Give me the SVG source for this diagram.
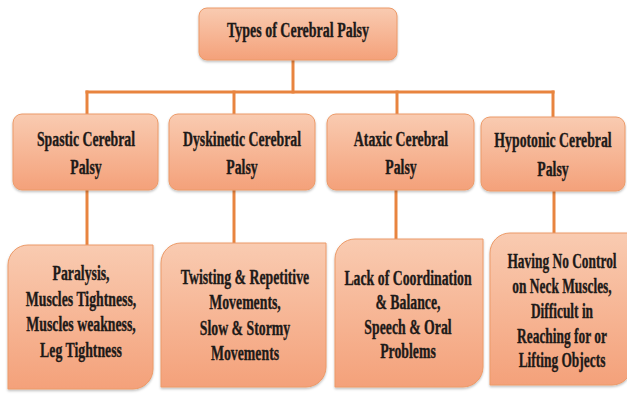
<svg xmlns="http://www.w3.org/2000/svg" width="627" height="394" viewBox="0 0 627 394">
  <defs>
    <linearGradient id="peach" x1="0" y1="0" x2="0" y2="1">
      <stop offset="0" stop-color="#F9CBB1"/>
      <stop offset="1" stop-color="#F4A17A"/>
    </linearGradient>
    <filter id="shadow" x="-10%" y="-10%" width="120%" height="125%">
      <feDropShadow dx="0" dy="1.5" stdDeviation="1.2" flood-color="#000" flood-opacity="0.25"/>
    </filter>
  </defs>
  <style>
    .box { fill: url(#peach); stroke: #EC9A68; stroke-width: 1; filter: url(#shadow); }
    .lbl { font-family: "Liberation Serif", "Times New Roman", serif; font-weight: bold; font-size: 20px; fill: #1E1A18; stroke: #1E1A18; stroke-width: 0.35; text-anchor: middle; }
    .wire { stroke: #E8843F; stroke-width: 3; fill: none; stroke-linecap: square; }
  </style>
  <rect width="627" height="394" fill="#FFFFFF"/>

  <!-- connectors -->
  <g id="connectors" class="wire">
    <line x1="293" y1="60" x2="293" y2="92"/>
    <line x1="87" y1="92" x2="553" y2="92"/>
    <line x1="87" y1="92" x2="87" y2="114"/>
    <line x1="234" y1="92" x2="234" y2="114"/>
    <line x1="397" y1="92" x2="397" y2="114"/>
    <line x1="553" y1="92" x2="553" y2="117"/>
    <line x1="87" y1="190" x2="87" y2="245"/>
    <line x1="234" y1="190" x2="234" y2="243"/>
    <line x1="396" y1="190" x2="396" y2="239"/>
    <line x1="554" y1="191" x2="554" y2="233"/>
  </g>

  <!-- root -->
  <g id="root">
    <rect class="box" x="199" y="8" width="198" height="52" rx="8"/>
    <text class="lbl" transform="translate(298 37) scale(0.70 1)" x="0" y="0">Types of Cerebral Palsy</text>
  </g>

  <!-- categories -->
  <g id="spastic">
    <rect class="box" x="13" y="114" width="145" height="76" rx="9"/>
    <g transform="translate(86 0) scale(0.69 1)">
      <text class="lbl" x="0" y="146">Spastic Cerebral</text>
      <text class="lbl" x="0" y="174">Palsy</text>
    </g>
  </g>
  <g id="dyskinetic">
    <rect class="box" x="169" y="114" width="146" height="76" rx="9"/>
    <g transform="translate(242 0) scale(0.69 1)">
      <text class="lbl" x="0" y="146">Dyskinetic Cerebral</text>
      <text class="lbl" x="0" y="174">Palsy</text>
    </g>
  </g>
  <g id="ataxic">
    <rect class="box" x="327" y="114" width="147" height="76" rx="9"/>
    <g transform="translate(401 0) scale(0.69 1)">
      <text class="lbl" x="0" y="146">Ataxic Cerebral</text>
      <text class="lbl" x="0" y="174">Palsy</text>
    </g>
  </g>
  <g id="hypotonic">
    <rect class="box" x="481" y="117" width="144" height="74" rx="9"/>
    <g transform="translate(553 0) scale(0.69 1)">
      <text class="lbl" x="0" y="147">Hypotonic Cerebral</text>
      <text class="lbl" x="0" y="176">Palsy</text>
    </g>
  </g>

  <!-- symptoms -->
  <g id="spastic-signs">
    <path class="box" d="M8 265 A20 20 0 0 1 28 245 H153 V369 A20 20 0 0 1 133 389 H8 Z"/>
    <g transform="translate(81 0) scale(0.69 1)">
      <text class="lbl" x="0" y="280">Paralysis,</text>
      <text class="lbl" x="0" y="306">Muscles Tightness,</text>
      <text class="lbl" x="0" y="331">Muscles weakness,</text>
      <text class="lbl" x="0" y="357">Leg Tightness</text>
    </g>
  </g>
  <g id="dyskinetic-signs">
    <path class="box" d="M161 263 A20 20 0 0 1 181 243 H326 V367 A20 20 0 0 1 306 387 H161 Z"/>
    <g transform="translate(245 0) scale(0.69 1)">
      <text class="lbl" x="0" y="284">Twisting &amp; Repetitive</text>
      <text class="lbl" x="0" y="309">Movements,</text>
      <text class="lbl" x="0" y="335">Slow &amp; Stormy</text>
      <text class="lbl" x="0" y="360">Movements</text>
    </g>
  </g>
  <g id="ataxic-signs">
    <path class="box" d="M335 259 A20 20 0 0 1 355 239 H483 V367 A20 20 0 0 1 463 387 H335 Z"/>
    <g transform="translate(408 0) scale(0.69 1)">
      <text class="lbl" x="0" y="285">Lack of Coordination</text>
      <text class="lbl" x="0" y="309">&amp; Balance,</text>
      <text class="lbl" x="0" y="334">Speech &amp; Oral</text>
      <text class="lbl" x="0" y="358">Problems</text>
    </g>
  </g>
  <g id="hypotonic-signs">
    <path class="box" d="M490 253 A20 20 0 0 1 510 233 H632 V365 A20 20 0 0 1 612 385 H490 Z"/>
    <g transform="translate(562 0) scale(0.67 1)">
      <text class="lbl" x="0" y="268">Having No Control</text>
      <text class="lbl" x="0" y="293">on Neck Muscles,</text>
      <text class="lbl" x="0" y="318">Difficult in</text>
      <text class="lbl" x="0" y="343">Reaching for or</text>
      <text class="lbl" x="0" y="367">Lifting Objects</text>
    </g>
  </g>
</svg>
